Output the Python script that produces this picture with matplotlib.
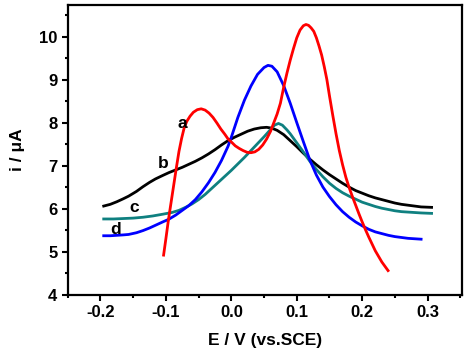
import matplotlib
matplotlib.use("Agg")
import matplotlib.pyplot as plt
from matplotlib.ticker import MultipleLocator

plt.rcParams['font.family'] = ['Liberation Sans', 'DejaVu Sans']
plt.rcParams['font.weight'] = 'bold'

# curve a (red)
a_x = [-0.1035, -0.100, -0.096, -0.092, -0.088, -0.084, -0.080, -0.076, -0.072, -0.068,
       -0.063, -0.058, -0.052, -0.046, -0.040, -0.034, -0.028, -0.022, -0.016, -0.010,
       -0.005, 0.000, 0.006, 0.012, 0.018, 0.024, 0.030, 0.036, 0.042, 0.048,
       0.054, 0.060, 0.065, 0.070, 0.075, 0.080, 0.085, 0.090, 0.095, 0.100,
       0.105, 0.110, 0.114, 0.118, 0.122, 0.126, 0.130, 0.134, 0.138, 0.142,
       0.146, 0.150, 0.155, 0.160, 0.165, 0.170, 0.175, 0.180, 0.185, 0.190,
       0.195, 0.200, 0.205, 0.210, 0.220, 0.230, 0.2395]
a_y = [4.92, 5.30, 5.75, 6.15, 6.55, 6.95, 7.33, 7.63, 7.88, 8.03,
       8.15, 8.24, 8.30, 8.32, 8.29, 8.22, 8.12, 7.99, 7.85, 7.73,
       7.62, 7.55, 7.46, 7.40, 7.35, 7.31, 7.30, 7.32, 7.38, 7.48,
       7.62, 7.80, 8.00, 8.20, 8.45, 8.82, 9.15, 9.45, 9.72, 9.97,
       10.15, 10.25, 10.28, 10.26, 10.20, 10.12, 9.97, 9.78, 9.57, 9.30,
       9.00, 8.62, 8.17, 7.74, 7.35, 7.02, 6.73, 6.49, 6.28, 6.08,
       5.88, 5.69, 5.51, 5.34, 5.02, 4.76, 4.56]

# curve b (black)
b_x = [-0.195, -0.185, -0.175, -0.165, -0.157, -0.145, -0.135, -0.125, -0.116, -0.105,
       -0.095, -0.085, -0.075, -0.065, -0.055, -0.045, -0.035, -0.025, -0.015, -0.005,
       0.005, 0.015, 0.025, 0.035, 0.045, 0.054, 0.062, 0.070, 0.080, 0.090,
       0.100, 0.110, 0.120, 0.130, 0.140, 0.150, 0.160, 0.170, 0.180, 0.190,
       0.200, 0.210, 0.220, 0.230, 0.240, 0.250, 0.260, 0.270, 0.280, 0.290, 0.306]
b_y = [6.06, 6.10, 6.16, 6.23, 6.29, 6.40, 6.51, 6.61, 6.69, 6.77,
       6.84, 6.90, 6.96, 7.03, 7.10, 7.18, 7.27, 7.37, 7.48, 7.58,
       7.66, 7.73, 7.80, 7.85, 7.88, 7.89, 7.87, 7.82, 7.72, 7.58,
       7.44, 7.29, 7.15, 7.02, 6.90, 6.79, 6.69, 6.59, 6.50, 6.42,
       6.36, 6.30, 6.25, 6.21, 6.17, 6.13, 6.10, 6.08, 6.06, 6.04, 6.03]

# curve c (teal)
c_x = [-0.195, -0.180, -0.165, -0.150, -0.135, -0.120, -0.105, -0.091, -0.080, -0.070,
       -0.060, -0.050, -0.040, -0.030, -0.020, -0.010, 0.000, 0.010, 0.020, 0.030,
       0.040, 0.050, 0.060, 0.066, 0.072, 0.078, 0.085, 0.090, 0.100, 0.110,
       0.120, 0.130, 0.140, 0.150, 0.160, 0.170, 0.180, 0.190, 0.200, 0.210,
       0.220, 0.230, 0.240, 0.250, 0.260, 0.270, 0.280, 0.290, 0.306]
c_y = [5.76, 5.76, 5.77, 5.78, 5.80, 5.83, 5.87, 5.91, 5.96, 6.03,
       6.11, 6.21, 6.33, 6.47, 6.61, 6.75, 6.89, 7.04, 7.19, 7.35,
       7.51, 7.67, 7.84, 7.94, 7.98, 7.94, 7.83, 7.74, 7.53, 7.32,
       7.10, 6.91, 6.74, 6.59, 6.47, 6.37, 6.29, 6.22, 6.15, 6.10,
       6.05, 6.01, 5.98, 5.95, 5.93, 5.92, 5.91, 5.90, 5.89]

# curve d (blue)
d_x = [-0.195, -0.185, -0.175, -0.165, -0.157, -0.145, -0.135, -0.125, -0.115, -0.105,
       -0.096, -0.085, -0.075, -0.065, -0.055, -0.045, -0.035, -0.025, -0.015, -0.005,
       0.000, 0.010, 0.020, 0.030, 0.040, 0.050, 0.056, 0.062, 0.070, 0.080,
       0.090, 0.100, 0.110, 0.120, 0.130, 0.140, 0.150, 0.160, 0.170, 0.180,
       0.190, 0.200, 0.210, 0.220, 0.230, 0.240, 0.250, 0.260, 0.270, 0.280, 0.290]
d_y = [5.37, 5.37, 5.38, 5.39, 5.40, 5.44, 5.49, 5.55, 5.62, 5.69,
       5.75, 5.85, 5.96, 6.07, 6.21, 6.39, 6.60, 6.84, 7.12, 7.45,
       7.66, 8.12, 8.52, 8.85, 9.12, 9.28, 9.33, 9.31, 9.18, 8.86,
       8.45, 8.00, 7.56, 7.13, 6.78, 6.50, 6.28, 6.09, 5.93, 5.80,
       5.69, 5.60, 5.52, 5.46, 5.42, 5.38, 5.35, 5.33, 5.31, 5.30, 5.29]

labels = ['a', 'b', 'c', 'd']
label_x = [-0.0755, -0.1044, -0.1485, -0.1765]
label_y = [7.88, 6.94, 5.92, 5.41]

fig = plt.figure(figsize=(4.68, 3.5), dpi=100)
ax = fig.add_axes([0.1447, 0.158, 0.8418, 0.8286])

ax.plot(b_x, b_y, color='black', lw=2.0)
ax.plot(c_x, c_y, color='#0f8080', lw=2.0)
ax.plot(d_x, d_y, color='#0000ff', lw=2.0)
ax.plot(a_x, a_y, color='#ff0000', lw=2.0)

for t, x, y in zip(labels, label_x, label_y):
    ax.text(x, y, t, ha='center', va='baseline', fontsize=12.5, fontweight='bold')

ax.set_xlim(-0.25, 0.352)
ax.set_ylim(4, 10.74)
ax.xaxis.set_major_locator(MultipleLocator(0.1))
ax.xaxis.set_minor_locator(MultipleLocator(0.05))
ax.yaxis.set_major_locator(MultipleLocator(1))
ax.yaxis.set_minor_locator(MultipleLocator(0.5))
ax.set_xticks([-0.2, -0.1, 0.0, 0.1, 0.2, 0.3])
ax.set_xticklabels(['-0.2', '-0.1', '0.0', '0.1', '0.2', '0.3'])

ax.tick_params(which='both', direction='out', width=1.5, labelsize=12,
               top=False, right=False)
ax.tick_params(which='major', length=4)
ax.tick_params(which='minor', length=2.5)
for s in ax.spines.values():
    s.set_linewidth(1.6)

ax.set_xlabel('E / V (vs.SCE)', fontsize=12.5, fontweight='bold', labelpad=9)
ax.set_ylabel('i / μA', fontsize=12.5, fontweight='bold', labelpad=10)

fig.savefig('out.png', dpi=100)
